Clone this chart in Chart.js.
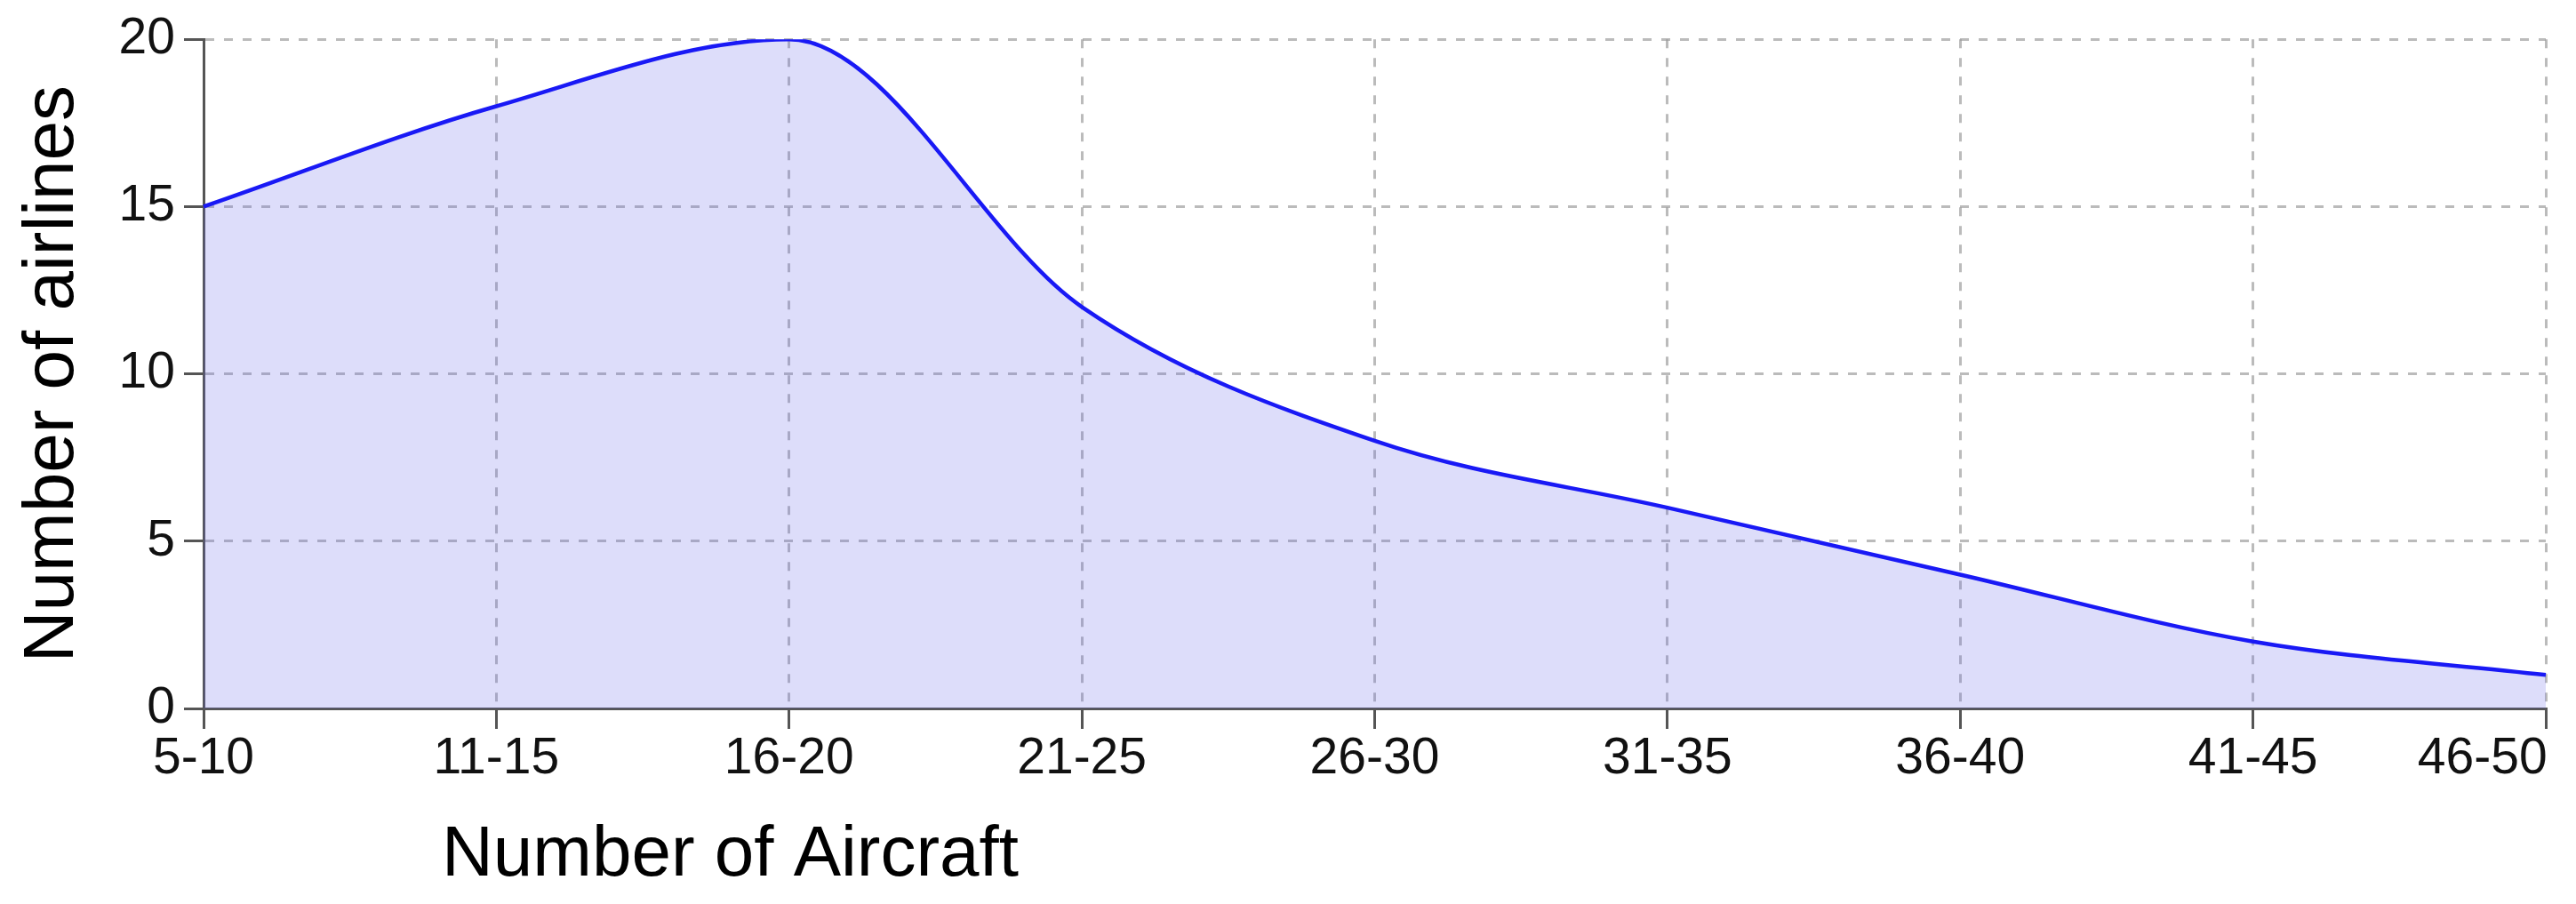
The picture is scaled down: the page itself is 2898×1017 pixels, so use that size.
<!DOCTYPE html>
<html>
<head>
<meta charset="utf-8">
<script src="https://cdn.jsdelivr.net/npm/chart.js@4"></script>
<style>
  html, body { margin: 0; padding: 0; background: #fff; }
  #wrap { width: 2898px; height: 1017px; }
</style>
</head>
<body>
<div id="wrap"><canvas id="fleetChart" width="2898" height="1017"></canvas></div>
<script>
// Datos
const sizeLabels = ["5-10", "11-15", "16-20", "21-25", "26-30", "31-35", "36-40", "41-45", "46-50"];
const airlineCounts = [15, 18, 20, 12, 8, 6, 4, 2, 1];
const yTicks = [0, 5, 10, 15, 20];

const fontFamily = "'Liberation Sans', Arial, sans-serif";
const axisColor = "#555";
const gridColor = "rgba(150, 150, 150, 0.65)";

// titulo del eje x, no esta centrado en el original
const xTitlePlugin = {
  id: "xTitle",
  afterDraw(chart) {
    const ctx = chart.ctx;
    ctx.save();
    ctx.font = "80px " + fontFamily;
    ctx.fillStyle = "#000";
    ctx.textAlign = "left";
    ctx.textBaseline = "alphabetic";
    ctx.fillText("Number of Aircraft", chart.chartArea.left + 268, 985);
    ctx.restore();
  },
};

window.onload = () => {
  const ctx = document.getElementById("fleetChart").getContext("2d");
  new Chart(ctx, {
    type: "line",
    data: {
      labels: sizeLabels,
      datasets: [
        {
          label: "Number of airlines",
          data: airlineCounts,
          borderColor: "rgb(25, 25, 245)",
          borderWidth: 4.5,
          backgroundColor: "rgba(100, 100, 230, 0.22)",
          fill: "origin",
          cubicInterpolationMode: "monotone",
          pointRadius: 0,
        },
      ],
    },
    options: {
      responsive: false,
      animation: false,
      layout: { padding: { top: 37, right: 34, bottom: 0, left: 0 } },
      plugins: {
        legend: { display: false },
        tooltip: { enabled: false },
      },
      scales: {
        x: {
          offset: false,
          grid: {
            color: gridColor,
            lineWidth: 3,
            tickColor: axisColor,
            tickWidth: 3,
            tickLength: 23,
          },
          border: { display: true, color: axisColor, width: 3, dash: [10, 11] },
          ticks: {
            color: "#111",
            font: { family: fontFamily, size: 57 },
            padding: 0,
            maxRotation: 0,
            autoSkip: false,
            // la ultima etiqueta va corrida a la izquierda
            callback: (value, index) =>
              index === sizeLabels.length - 1 ? sizeLabels[index] + "         " : sizeLabels[index],
          },
          afterFit(scale) {
            scale.height = 220;
            scale.paddingRight = 0;
          },
        },
        y: {
          min: 0,
          max: 20,
          afterBuildTicks(scale) {
            scale.ticks = yTicks.map((v) => ({ value: v }));
          },
          grid: {
            color: gridColor,
            lineWidth: 3,
            tickColor: axisColor,
            tickWidth: 3,
            tickLength: 22,
          },
          border: { display: true, color: axisColor, width: 3, dash: [10, 11] },
          ticks: {
            color: "#111",
            font: { family: fontFamily, size: 57 },
            padding: 10,
          },
          title: {
            display: true,
            text: "Number of airlines",
            color: "#000",
            font: { family: fontFamily, size: 80 },
            padding: { top: 12, bottom: 0 },
          },
          afterFit(scale) {
            scale.width = 229;
          },
        },
      },
    },
    plugins: [xTitlePlugin],
  });
};
</script>
</body>
</html>
